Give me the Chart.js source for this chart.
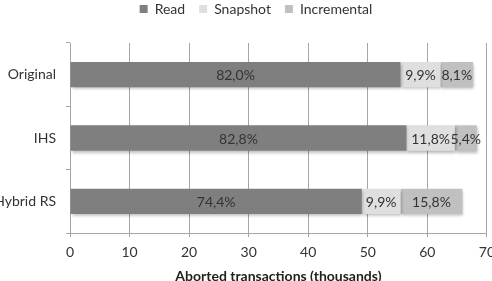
<!DOCTYPE html>
<html>
<head>
<meta charset="utf-8">
<script src="https://cdn.jsdelivr.net/npm/chart.js@4/dist/chart.umd.min.js"></script>
<style>
  html, body { margin:0; padding:0; background:#fff; overflow:hidden; }
  #wrap { position:relative; width:502px; height:281px; }
</style>
</head>
<body>
<div id="wrap"><canvas id="grafico" width="502" height="281"></canvas></div>
<script>
const categorias = ["Original", "IHS", "Hybrid RS"];
const series = ["Read", "Snapshot", "Incremental"];
// aborted transactions, thousands
const read = [55.5, 56.5, 49.0];
const snapshot = [6.7, 8.1, 6.5];
const incremental = [5.5, 3.7, 10.4];
// percentage labels as printed on the bars
const etiquetasRead = ["82,0%", "82,8%", "74,4%"];
const etiquetasSnapshot = ["9,9%", "11,8%", "9,9%"];
const etiquetasIncremental = ["8,1%", "5,4%", "15,8%"];
const ticksX = [0, 10, 20, 30, 40, 50, 60, 70];

const colores = ["#7f7f7f", "#dfdfdf", "#c0c0c0"];
const etiquetas = [etiquetasRead, etiquetasSnapshot, etiquetasIncremental];
const fuente = "Lato, 'Open Sans', sans-serif";

const sombra = {
  id: "sombra",
  beforeDatasetsDraw(chart) {
    const ctx = chart.ctx;
    ctx.save();
    ctx.shadowColor = "rgba(0,0,0,0.28)";
    ctx.shadowBlur = 3;
    ctx.shadowOffsetX = 1;
    ctx.shadowOffsetY = 2;
  },
  afterDatasetsDraw(chart) {
    const ctx = chart.ctx;
    ctx.restore();
    ctx.save();
    ctx.font = "14px " + fuente;
    ctx.fillStyle = "#333";
    ctx.textAlign = "center";
    ctx.textBaseline = "middle";
    chart.data.datasets.forEach((ds, i) => {
      chart.getDatasetMeta(i).data.forEach((bar, j) => {
        const x = (bar.x + bar.base) / 2;
        ctx.fillText(etiquetas[i][j], x, bar.y + 1);
      });
    });
    ctx.restore();
  }
};

const leyenda = {
  id: "leyenda",
  beforeInit(chart) {
    const fitOrig = chart.legend.fit;
    chart.legend.fit = function() {
      fitOrig.call(this);
      this.height = 43;
    };
  },
  afterLayout(chart) {
    const l = chart.legend;
    l.top -= 12; l.bottom -= 12;
    l.left += 5; l.right += 5;
  }
};

new Chart(document.getElementById("grafico").getContext("2d"), {
  type: "bar",
  data: {
    labels: categorias,
    datasets: series.map((s, i) => ({
      label: s,
      data: [read, snapshot, incremental][i],
      backgroundColor: colores[i],
      borderWidth: 0,
      barPercentage: 0.8,
      categoryPercentage: 0.5
    }))
  },
  options: {
    indexAxis: "y",
    responsive: false,
    animation: false,
    layout: { padding: 0 },
    plugins: {
      legend: {
        position: "top",
        labels: {
          boxWidth: 8, boxHeight: 8, padding: 14,
          color: "#333",
          font: { family: fuente, size: 14 }
        }
      },
      tooltip: { enabled: false }
    },
    scales: {
      x: {
        stacked: true,
        min: 0, max: 70,
        afterBuildTicks(s) { s.ticks = ticksX.map(v => ({ value: v })); },
        afterFit(s) { s.height = 48; },
        grid: { color: "#a6a6a6", lineWidth: 1, tickLength: 4 },
        border: { color: "#a6a6a6" },
        ticks: { padding: 7, color: "#333", font: { family: fuente, size: 14 } },
        title: {
          display: true,
          text: "Aborted transactions (thousands)",
          color: "#222",
          font: { family: fuente, size: 14, weight: "bold", lineHeight: 1 },
          padding: { top: 0, bottom: -2 }
        }
      },
      y: {
        stacked: true,
        afterFit(s) { s.width = 70; },
        grid: { offset: true, drawOnChartArea: false, color: "#a6a6a6", tickLength: 4 },
        border: { color: "#a6a6a6" },
        ticks: { padding: 10, color: "#333", font: { family: fuente, size: 14 } }
      }
    }
  },
  plugins: [sombra, leyenda]
});
</script>
</body>
</html>
